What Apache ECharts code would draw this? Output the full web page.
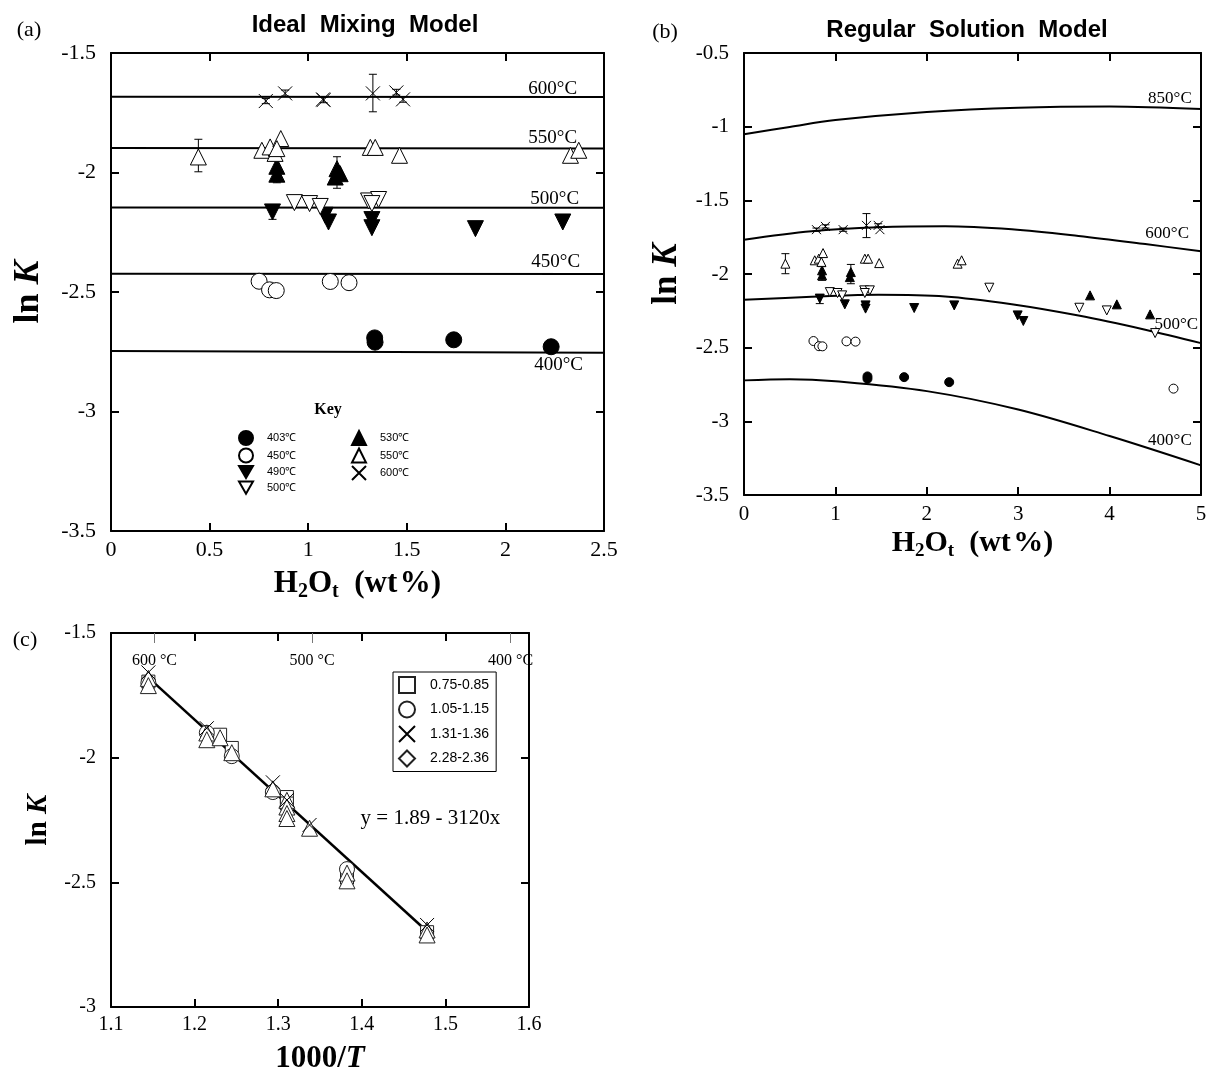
<!DOCTYPE html>
<html>
<head>
<meta charset="utf-8">
<script src="https://cdn.jsdelivr.net/npm/echarts@6/dist/echarts.min.js"></script>
<style>
  html, body { margin: 0; padding: 0; background: #fff; }
  #chart { width: 1210px; height: 1075px; }
</style>
</head>
<body>
<div id="chart"></div>
<script>
// ---------- data: panel (a) ideal mixing model, ln K vs H2Ot ----------
const a403 = [[1.337, -2.692], [1.339, -2.710], [1.738, -2.700], [2.232, -2.729]];
const a450 = [[0.751, -2.455], [0.804, -2.491], [0.838, -2.494], [1.112, -2.456], [1.207, -2.461]];
const a490 = [[0.819, -2.165], [1.086, -2.179], [1.103, -2.207], [1.323, -2.197], [1.323, -2.231], [1.848, -2.235], [2.291, -2.207]];
const a500 = [[0.930, -2.126], [1.007, -2.130], [1.061, -2.142], [1.306, -2.119], [1.357, -2.113], [1.323, -2.130]];
const a530 = [[0.841, -1.974], [0.841, -2.007], [1.146, -1.984], [1.162, -2.005], [1.137, -2.019]];
const a550 = [[0.443, -1.935], [0.765, -1.907], [0.807, -1.893], [0.832, -1.920], [0.861, -1.858], [0.841, -1.900],
              [1.315, -1.895], [1.340, -1.895], [1.463, -1.928], [2.330, -1.928], [2.372, -1.907]];
const a600 = [[0.785, -1.701], [0.883, -1.669], [1.078, -1.697], [1.075, -1.694], [1.328, -1.669], [1.447, -1.665], [1.481, -1.694]];
// error bars: [x, low, high]
const aErr = [[0.443, -1.997, -1.861], [1.328, -1.746, -1.589], [1.146, -2.066, -1.934], [0.841, -2.043, -1.99],
              [0.819, -2.196, -2.136], [0.785, -1.712, -1.690], [0.883, -1.680, -1.655], [1.078, -1.708, -1.686],
              [1.447, -1.676, -1.652], [1.481, -1.706, -1.683]];
// isotherms (ideal mixing)
const aIso600 = [[0, -1.683], [2.5, -1.684]];
const aIso550 = [[0, -1.898], [2.5, -1.900]];
const aIso500 = [[0, -2.146], [2.5, -2.147]];
const aIso450 = [[0, -2.424], [2.5, -2.425]];
const aIso400 = [[0, -2.747], [2.5, -2.754]];
const aIsoLabels = [['600°C', 2.24, -1.652], ['550°C', 2.24, -1.856], ['500°C', 2.25, -2.109], ['450°C', 2.255, -2.373], ['400°C', 2.27, -2.805]];

// ---------- data: panel (b) regular solution model ----------
const b403 = [[1.351, -2.695], [1.351, -2.711], [1.752, -2.700], [2.245, -2.734]];
const b450 = [[0.760, -2.455], [0.820, -2.490], [0.858, -2.491], [1.121, -2.457], [1.220, -2.459], [4.699, -2.778]];
const b490 = [[0.829, -2.167], [1.103, -2.206], [1.330, -2.213], [1.330, -2.235], [1.862, -2.231], [2.300, -2.213], [2.994, -2.281], [3.056, -2.319]];
const b500 = [[0.939, -2.123], [1.023, -2.129], [1.074, -2.145], [1.315, -2.111], [1.377, -2.111], [1.322, -2.129],
              [2.684, -2.093], [3.669, -2.229], [3.969, -2.247], [4.498, -2.401]];
const b530 = [[0.854, -1.975], [0.854, -2.009], [1.169, -1.987], [1.158, -2.021], [3.786, -2.145], [4.079, -2.206], [4.443, -2.274]];
const b550 = [[0.453, -1.930], [0.774, -1.907], [0.818, -1.896], [0.865, -1.858], [0.847, -1.918], [1.322, -1.896],
              [1.358, -1.896], [1.479, -1.926], [2.337, -1.930], [2.381, -1.907]];
const b600 = [[0.793, -1.699], [0.891, -1.677], [1.085, -1.699], [1.340, -1.670], [1.468, -1.670], [1.487, -1.699]];
const bErr = [[0.453, -1.998, -1.862], [1.340, -1.753, -1.590], [1.169, -2.066, -1.935], [0.854, -2.043, -1.95],
              [0.829, -2.201, -2.145], [0.793, -1.710, -1.688], [0.891, -1.688, -1.666], [1.085, -1.710, -1.688],
              [1.468, -1.681, -1.659], [2.245, -2.745, -2.722]];
// isotherms (regular solution)
const bIso850 = [[0, -1.052], [0.5, -1.002], [1, -0.955], [2, -0.900], [3, -0.871], [4, -0.863], [5, -0.880]];
const bIso600 = [[0, -1.767], [0.74, -1.710], [1.47, -1.683], [2.2, -1.676], [2.93, -1.697], [3.66, -1.742], [4.39, -1.797], [5, -1.846]];
const bIso500 = [[0, -2.174], [0.74, -2.155], [1.47, -2.141], [2.2, -2.152], [2.93, -2.205], [3.66, -2.282], [4.39, -2.378], [5, -2.469]];
const bIso400 = [[0, -2.722], [0.5, -2.714], [1, -2.728], [2, -2.795], [3, -2.920], [4, -3.100], [5, -3.299]];
const bIsoLabels = [['850°C', 4.66, -0.808], ['600°C', 4.63, -1.724], ['500°C', 4.73, -2.343], ['400°C', 4.66, -3.130]];

// ---------- data: panel (c) ln K vs 1000/T ----------
const cSquare = [[1.1447, -1.695], [1.2305, -1.908], [1.2445, -1.961], [1.3104, -2.158], [1.3104, -2.184], [1.3823, -2.481], [1.4781, -2.700]];
const cCircle = [[1.1447, -1.700], [1.2146, -1.900], [1.2445, -1.994], [1.2936, -2.138], [1.3823, -2.447]];
const cCross = [[1.1447, -1.658], [1.2146, -1.882], [1.2936, -2.099], [1.3104, -2.170], [1.3375, -2.270], [1.4781, -2.671]];
const cTriangle = [[1.1447, -1.682], [1.1447, -1.711], [1.2146, -1.901], [1.2146, -1.928], [1.2305, -1.920], [1.2445, -1.980],
                   [1.2936, -2.125], [1.3104, -2.171], [1.3104, -2.198], [1.3104, -2.224], [1.3104, -2.244], [1.3375, -2.283],
                   [1.3823, -2.463], [1.3823, -2.494], [1.4781, -2.691], [1.4781, -2.711]];
const cFit = [[1.1507, -1.697], [1.474, -2.684]];
const cFitText = ['y = 1.89 - 3120x', 1.482, -2.244];
const cTempTicks = [1.152, 1.3405, 1.578];
const cTempLabels = ['600 °C', '500 °C', '400 °C'];
const cGroups = ['0.75-0.85', '1.05-1.15', '1.31-1.36', '2.28-2.36'];

const keyNames = ['403℃', '450℃', '490℃', '500℃', '530℃', '550℃', '600℃'];

// ---------- styling helpers ----------
const SERIF = '"Liberation Serif", "Times New Roman", serif';
const SANS = '"Liberation Sans", Arial, sans-serif';
const CROSS = 'path://M0,0L10,10M0,10L10,0';
const TRI_DOWN = 'path://M0,0L10,0L5,8.66Z';

const keyStyle = {
  '403℃': { symbol: 'circle', fill: '#000' },
  '450℃': { symbol: 'circle', fill: '#fff' },
  '490℃': { symbol: TRI_DOWN, fill: '#000' },
  '500℃': { symbol: TRI_DOWN, fill: '#fff' },
  '530℃': { symbol: 'triangle', fill: '#000' },
  '550℃': { symbol: 'triangle', fill: '#fff' },
  '600℃': { symbol: CROSS, fill: 'rgba(0,0,0,0)' }
};

function tempScatter(name, data, xi, yi, size) {
  const st = keyStyle[name];
  return {
    type: 'scatter', name, data, xAxisIndex: xi, yAxisIndex: yi,
    symbol: st.symbol, symbolSize: size, z: 5, silent: true,
    itemStyle: { color: st.fill, borderColor: '#000', borderWidth: 1, opacity: 1 }
  };
}

function isoLine(data, xi, yi, smooth) {
  return {
    type: 'line', data, xAxisIndex: xi, yAxisIndex: yi, smooth: smooth ? 0.35 : false,
    showSymbol: false, symbol: 'none', silent: true, z: 3,
    lineStyle: { color: '#000', width: 2 }
  };
}

// text placed at data coordinates (isotherm names, fit equation)
function textMarks(items, xi, yi, fontSize) {
  return {
    type: 'scatter', xAxisIndex: xi, yAxisIndex: yi, silent: true, z: 6,
    symbolSize: 0, itemStyle: { color: '#000', opacity: 1 },
    data: items.map(t => ({ name: t[0], value: [t[1], t[2]] })),
    label: {
      show: true, position: [0, 0], align: 'center', verticalAlign: 'middle', formatter: '{b}',
      color: '#000', opacity: 1, fontFamily: SERIF, fontSize, textBorderWidth: 0
    }
  };
}

function errRender(params, api) {
  const x = api.value(0);
  const p1 = api.coord([x, api.value(2)]);
  const p2 = api.coord([x, api.value(1)]);
  const w = 4;
  const st = { stroke: '#000', lineWidth: 1 };
  return {
    type: 'group', children: [
      { type: 'line', shape: { x1: p1[0], y1: p1[1], x2: p2[0], y2: p2[1] }, style: st },
      { type: 'line', shape: { x1: p1[0] - w, y1: p1[1], x2: p1[0] + w, y2: p1[1] }, style: st },
      { type: 'line', shape: { x1: p2[0] - w, y1: p2[1], x2: p2[0] + w, y2: p2[1] }, style: st }
    ]
  };
}

function errSeries(data, xi, yi) {
  return { type: 'custom', data, xAxisIndex: xi, yAxisIndex: yi, renderItem: errRender, silent: true, z: 4 };
}

function axis(gridIndex, position, min, max, interval, opts) {
  opts = opts || {};
  const isY = position === 'left' || position === 'right';
  return {
    type: 'value', gridIndex, position, min, max, interval,
    axisLine: { show: true, onZero: false, lineStyle: { color: '#000', width: 2 } },
    axisTick: { show: true, inside: true, length: 8, lineStyle: { color: '#000', width: 2 } },
    axisLabel: {
      show: !!opts.labels, color: '#000', fontFamily: SERIF, fontSize: opts.fontSize || 21,
      margin: opts.margin || 10, formatter: opts.formatter, showMinLabel: true, showMaxLabel: true,
      padding: isY ? [9, 0, 0, 0] : 0
    },
    splitLine: { show: false },
    name: opts.name || '', nameLocation: 'middle', nameGap: opts.nameGap || 0,
    nameTextStyle: opts.nameStyle
  };
}

function h2oStyle(size) {
  return {
    rich: {
      m: { fontFamily: SERIF, fontWeight: 'bold', fontSize: size, color: '#000' },
      s: { fontFamily: SERIF, fontWeight: 'bold', fontSize: Math.round(size * 0.63), color: '#000', padding: [Math.round(size * 0.55), 0, 0, 0] }
    }
  };
}
const h2oName = '{m|H}{s|2}{m|O}{s|t}{m|  (wt\u200a%)}';
function lnKStyle(size) {
  return {
    rich: {
      b: { fontFamily: SERIF, fontWeight: 'bold', fontSize: size, color: '#000' },
      i: { fontFamily: SERIF, fontWeight: 'bold', fontStyle: 'italic', fontSize: size, color: '#000' }
    }
  };
}

const xAxes = [
  // panel a
  axis(0, 'bottom', 0, 2.5, 0.5, { labels: true, fontSize: 22, margin: 8, name: h2oName, nameGap: 34, nameStyle: h2oStyle(31) }),
  axis(0, 'top', 0, 2.5, 0.5),
  // panel b
  axis(1, 'bottom', 0, 5, 1, { labels: true, fontSize: 21, margin: 9, name: h2oName, nameGap: 30, nameStyle: h2oStyle(30) }),
  axis(1, 'top', 0, 5, 1),
  // panel c
  axis(2, 'bottom', 1.1, 1.6, 0.1, {
    labels: true, margin: 8, fontSize: 20, formatter: v => v.toFixed(1),
    name: '{b|1000/}{i|T}', nameGap: 36, nameStyle: lnKStyle(31)
  }),
  axis(2, 'top', 1.1, 1.6, 0.1),
  {
    type: 'value', gridIndex: 2, position: 'top', min: 1.1, max: 1.6,
    axisLine: { show: false },
    axisTick: { show: true, inside: true, length: 10, customValues: cTempTicks, lineStyle: { color: '#777', width: 1 } },
    axisLabel: {
      show: true, inside: true, margin: 20, customValues: cTempTicks, color: '#000', fontFamily: SERIF, fontSize: 16,
      formatter: v => {
        let best = 0;
        cTempTicks.forEach((t, i) => { if (Math.abs(t - v) < Math.abs(cTempTicks[best] - v)) best = i; });
        return cTempLabels[best];
      }
    },
    splitLine: { show: false }
  }
];

const yAxes = [
  axis(0, 'left', -3.5, -1.5, 0.5, { labels: true, fontSize: 22, margin: 15, name: '{b|ln }{i|K}', nameGap: 64, nameStyle: lnKStyle(36) }),
  axis(0, 'right', -3.5, -1.5, 0.5),
  axis(1, 'left', -3.5, -0.5, 0.5, { labels: true, fontSize: 21, margin: 15, name: '{b|ln }{i|K}', nameGap: 60, nameStyle: lnKStyle(35) }),
  axis(1, 'right', -3.5, -0.5, 0.5),
  axis(2, 'left', -3, -1.5, 0.5, { labels: true, fontSize: 20, margin: 15, name: '{b|ln }{i|K}', nameGap: 58, nameStyle: lnKStyle(29) }),
  axis(2, 'right', -3, -1.5, 0.5)
];

const aSets = [a403, a450, a490, a500, a530, a550, a600];
const bSets = [b403, b450, b490, b500, b530, b550, b600];

const series = [];
// panel a
[aIso600, aIso550, aIso500, aIso450, aIso400].forEach(d => series.push(isoLine(d, 0, 0, false)));
series.push(errSeries(aErr, 0, 0));
keyNames.forEach((n, i) => series.push(tempScatter(n, aSets[i], 0, 0, n === '600℃' ? 14 : 16)));
series.push(textMarks(aIsoLabels, 0, 0, 19));
// panel b
[bIso850, bIso600, bIso500, bIso400].forEach(d => series.push(isoLine(d, 2, 2, true)));
series.push(errSeries(bErr, 2, 2));
keyNames.forEach((n, i) => series.push(tempScatter(n, bSets[i], 2, 2, 9)));
series.push(textMarks(bIsoLabels, 2, 2, 17));
// panel c
series.push({
  type: 'line', data: cFit, xAxisIndex: 4, yAxisIndex: 4, showSymbol: false, symbol: 'none', silent: true, z: 3,
  lineStyle: { color: '#000', width: 2.5 }
});
const cStyle = { color: '#fff', borderColor: '#222', borderWidth: 1, opacity: 1 };
series.push({ type: 'scatter', name: cGroups[0], data: cSquare, xAxisIndex: 4, yAxisIndex: 4, symbol: 'rect', symbolSize: 13, itemStyle: cStyle, z: 5, silent: true });
series.push({ type: 'scatter', name: cGroups[1], data: cCircle, xAxisIndex: 4, yAxisIndex: 4, symbol: 'circle', symbolSize: 15, itemStyle: cStyle, z: 5, silent: true });
series.push({ type: 'scatter', name: cGroups[3], data: cTriangle, xAxisIndex: 4, yAxisIndex: 4, symbol: 'triangle', symbolSize: 16, itemStyle: cStyle, z: 5, silent: true });
series.push({ type: 'scatter', name: cGroups[2], data: cCross, xAxisIndex: 4, yAxisIndex: 4, symbol: CROSS, symbolSize: 14,
  itemStyle: { color: 'rgba(0,0,0,0)', borderColor: '#000', borderWidth: 1, opacity: 1 }, z: 6, silent: true });
series.push(textMarks([cFitText], 4, 4, 21));

const legendText = { fontFamily: SANS, fontSize: 11, color: '#000', padding: [0, 0, 0, 9] };

const option = {
  animation: false,
  backgroundColor: '#fff',
  grid: [
    { left: 111, top: 53, width: 493, height: 478 },
    { left: 744, top: 53, width: 457, height: 442 },
    { left: 111, top: 633, width: 418, height: 379 }
  ],
  xAxis: xAxes,
  yAxis: yAxes,
  legend: [
    { data: keyNames.slice(0, 4), left: 238, top: 430, orient: 'vertical', itemWidth: 14, itemHeight: 14, itemGap: 1.5,
      selectedMode: false, textStyle: legendText, padding: 0 },
    { data: keyNames.slice(4), left: 351, top: 430, orient: 'vertical', itemWidth: 14, itemHeight: 14, itemGap: 1.5,
      selectedMode: false, textStyle: legendText, padding: 0 },
    { data: [cGroups[0], cGroups[1], cGroups[2], { name: cGroups[3], icon: 'diamond' }],
      left: 393, top: 672, orient: 'vertical', itemWidth: 16, itemHeight: 16, itemGap: 6.5, selectedMode: false,
      padding: [4, 7, 4, 5], borderColor: '#000', borderWidth: 1,
      textStyle: { fontFamily: SANS, fontSize: 14, color: '#000', padding: [0, 0, 0, 10] } }
  ],
  graphic: [
    { type: 'text', x: 365, y: 25, style: { text: 'Ideal  Mixing  Model', fill: '#000', font: 'bold 24px "Liberation Sans", Arial, sans-serif', align: 'center', verticalAlign: 'middle' } },
    { type: 'text', x: 967, y: 30, style: { text: 'Regular  Solution  Model', fill: '#000', font: 'bold 24px "Liberation Sans", Arial, sans-serif', align: 'center', verticalAlign: 'middle' } },
    { type: 'text', x: 29, y: 30, style: { text: '(a)', fill: '#000', font: '22px "Liberation Serif", serif', align: 'center', verticalAlign: 'middle' } },
    { type: 'text', x: 665, y: 32, style: { text: '(b)', fill: '#000', font: '22px "Liberation Serif", serif', align: 'center', verticalAlign: 'middle' } },
    { type: 'text', x: 25, y: 640, style: { text: '(c)', fill: '#000', font: '22px "Liberation Serif", serif', align: 'center', verticalAlign: 'middle' } },
    { type: 'text', x: 328, y: 410, style: { text: 'Key', fill: '#000', font: 'bold 16px "Liberation Serif", serif', align: 'center', verticalAlign: 'middle' } }
  ],
  series
};

const chart = echarts.init(document.getElementById('chart'), null, { renderer: 'canvas' });
chart.setOption(option);
</script>
</body>
</html>
